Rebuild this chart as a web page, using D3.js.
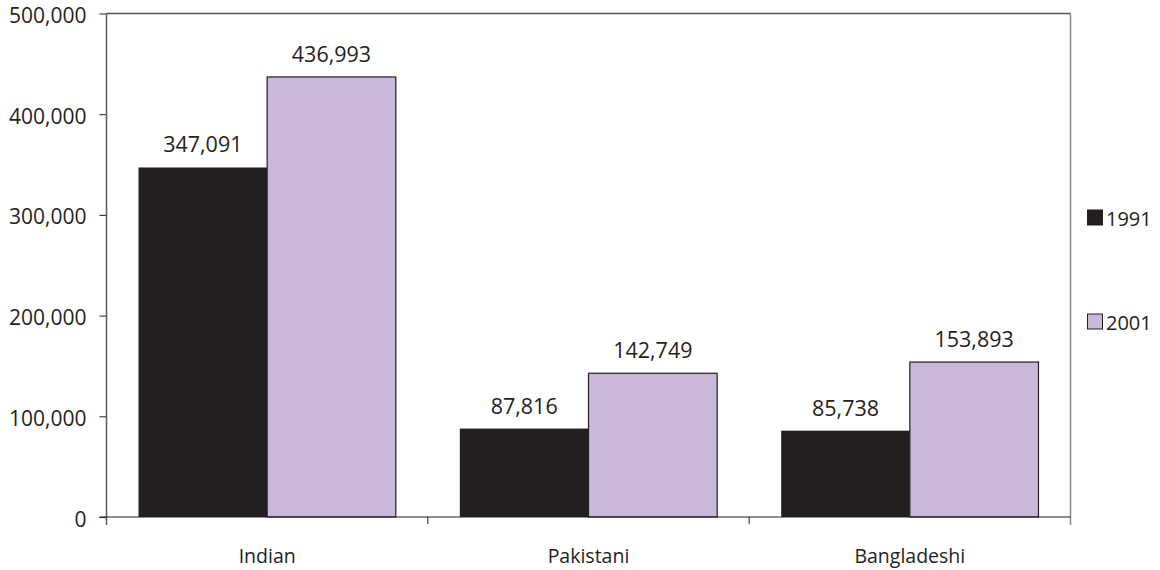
<!DOCTYPE html>
<html>
<head>
<meta charset="utf-8">
<script src="https://cdn.jsdelivr.net/npm/d3@7"></script>
<style>
  html, body { margin: 0; padding: 0; background: #fff; }
  svg text { font-family: "Open Sans", "Noto Sans", sans-serif; fill: #231f20; }
</style>
</head>
<body>
<svg id="chart" width="1160" height="570"></svg>
<script>
// Population by ethnic group, census years
const categories = ["Indian", "Pakistani", "Bangladeshi"];
const seriesNames = ["1991", "2001"];
const values1991 = [347091, 87816, 85738];
const values2001 = [436993, 142749, 153893];
const yTicks = [0, 100000, 200000, 300000, 400000, 500000];

const colors = { "1991": "#231f20", "2001": "#c9b8da" };
const stroke = "#231f20";

const svg = d3.select("#chart");
const margin = { left: 106.5, right: 89.5, top: 13.5, bottom: 53 };
const W = 1160, H = 570;
const plotW = W - margin.left - margin.right;
const plotH = H - margin.top - margin.bottom;

const g = svg.append("g").attr("transform", `translate(${margin.left},${margin.top})`);

const x0 = d3.scaleBand().domain(categories).range([0, plotW]).paddingInner(0).paddingOuter(0);
const x1 = d3.scaleBand().domain(seriesNames).range([32, x0.bandwidth() - 32]).padding(0);
const y = d3.scaleLinear().domain([0, 500000]).range([plotH, 0]);

const fmt = d3.format(",");

// Plot frame: top and right edges
g.append("line").attr("x1", 0).attr("x2", plotW).attr("y1", 0).attr("y2", 0)
  .attr("stroke", "#555").attr("stroke-width", 1.5);
g.append("line").attr("x1", plotW).attr("x2", plotW).attr("y1", 0).attr("y2", plotH + 8)
  .attr("stroke", "#8a8a8a").attr("stroke-width", 1.5);

// Bars
const data = categories.map((c, i) => ({ cat: c, vals: [
  { s: "1991", v: values1991[i] },
  { s: "2001", v: values2001[i] }
]}));

const groups = g.selectAll(".grp").data(data).join("g")
  .attr("transform", d => `translate(${x0(d.cat)},0)`);

groups.selectAll("rect").data(d => d.vals).join("rect")
  .attr("x", d => x1(d.s))
  .attr("y", d => y(d.v))
  .attr("width", x1.bandwidth())
  .attr("height", d => plotH - y(d.v))
  .attr("fill", d => colors[d.s])
  .attr("stroke", d => d.s === "2001" ? stroke : "none")
  .attr("stroke-width", 1.2);

groups.selectAll("text.val").data(d => d.vals).join("text")
  .attr("class", "val")
  .attr("x", d => x1(d.s) + x1.bandwidth() / 2)
  .attr("y", d => y(d.v) - 15)
  .attr("text-anchor", "middle")
  .attr("font-size", 21.5)
  .text(d => fmt(d.v));

// Y axis
const yAxis = d3.axisLeft(y).tickValues(yTicks).tickFormat(fmt).tickSize(7).tickPadding(13);
const ya = g.append("g").call(yAxis);
ya.select(".domain").remove();
ya.selectAll(".tick line").attr("stroke", "#231f20").attr("stroke-width", 1);
ya.selectAll(".tick text")
  .attr("font-size", 21)
  .attr("font-family", "'Open Sans', sans-serif")
  .attr("fill", "#231f20")
  .attr("dy", "9px");
g.append("line").attr("x1", 0).attr("x2", 0).attr("y1", 0).attr("y2", plotH + 8)
  .attr("stroke", "#5a5a5a").attr("stroke-width", 1.5);

// X axis baseline with category separators
g.append("line").attr("x1", -7).attr("x2", plotW).attr("y1", plotH).attr("y2", plotH)
  .attr("stroke", "#231f20").attr("stroke-width", 1.2);
const seps = categories.map(c => x0(c)).slice(1);
g.selectAll(".sep").data(seps).join("line")
  .attr("x1", d => d).attr("x2", d => d)
  .attr("y1", plotH).attr("y2", plotH + 7)
  .attr("stroke", "#231f20").attr("stroke-width", 1);

g.selectAll(".cat").data(categories).join("text")
  .attr("x", d => x0(d) + x0.bandwidth() / 2)
  .attr("y", plotH + 45.5)
  .attr("text-anchor", "middle")
  .attr("font-size", 19.5)
  .text(d => d);

// Legend
const legendY = [218, 322];
const lg = svg.append("g");
seriesNames.forEach((s, i) => {
  lg.append("rect")
    .attr("x", 1087.5).attr("y", legendY[i] - 8)
    .attr("width", 15).attr("height", 15)
    .attr("fill", colors[s])
    .attr("stroke", stroke).attr("stroke-width", 1);
  lg.append("text")
    .attr("x", 1106).attr("y", legendY[i] + 8)
    .attr("font-size", 20)
    .text(s);
});
</script>
</body>
</html>
